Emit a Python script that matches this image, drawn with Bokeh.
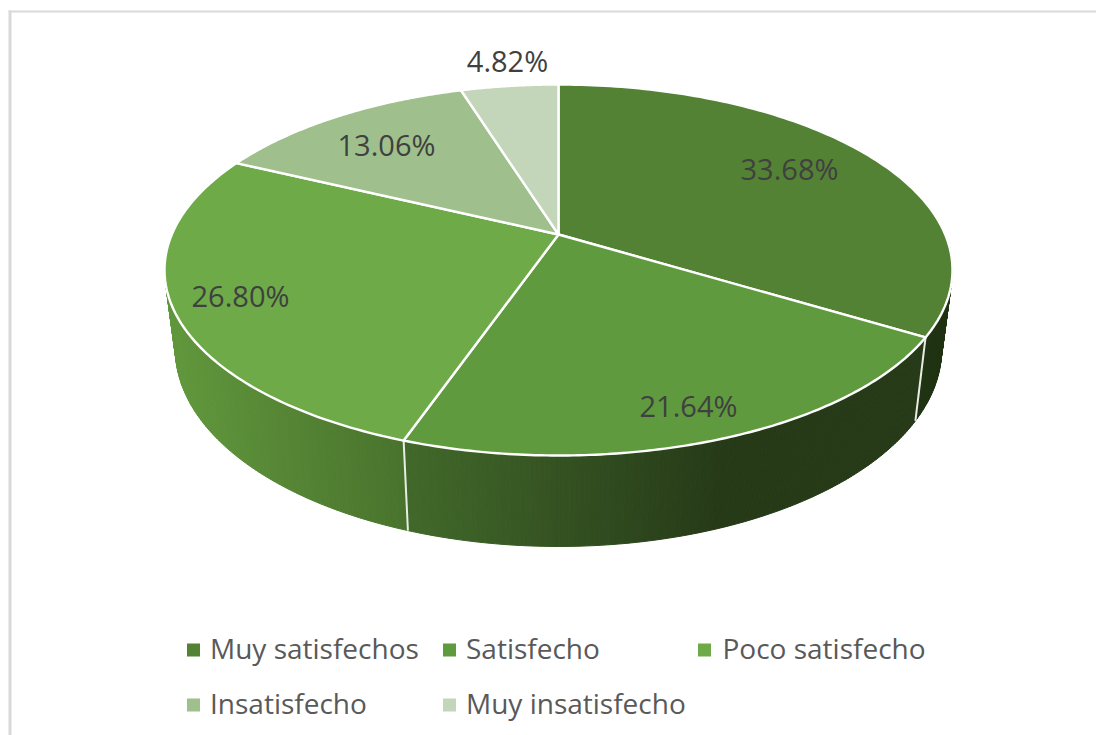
import math
import numpy as np
from bokeh.plotting import figure
from bokeh.models import Range1d, ColumnDataSource
from bokeh.core.properties import value
from bokeh.embed import file_html
from bokeh.resources import INLINE

# --- data ---
categories = ["Muy satisfechos", "Satisfecho", "Poco satisfecho", "Insatisfecho", "Muy insatisfecho"]
shares = [33.68, 21.64, 26.80, 13.06, 4.82]
share_labels = ["33.68%", "21.64%", "26.80%", "13.06%", "4.82%"]

# --- styles and placement ---
face_colors = ["#548235", "#5f9a3e", "#6eaa48", "#9fc08c", "#c3d6b9"]
# wall shading: (x_from, rgb_from, x_to, rgb_to) per slice
wall_shades = [
    (700, (31, 50, 18), 950, (31, 50, 18)),
    (410, (65, 104, 42), 720, (38, 58, 24)),
    (170, (97, 151, 60), 402, (73, 115, 45)),
    (0, (60, 90, 40), 1, (60, 90, 40)),
    (0, (60, 90, 40), 1, (60, 90, 40)),
]
label_x = [789, 688, 240, 386, 507]
label_y = [168, 405, 295, 144, 60]
legend_col = [0, 1, 2, 0, 1]
legend_row = [0, 0, 0, 1, 1]
legend_col_x = [193, 449, 704]
legend_text_x = [209.5, 465.5, 722]
legend_row_y = [647.5, 702.5]
legend_mark_y = [649.5, 704.5]

CX, CY = 558.0, 234.0
TOP = dict(a=386.7, b=178.7, k=-0.1914, y0=CY)
BOT = dict(a=376.0, b=190.0, k=-0.1914, y0=311.0)
W, H = 1096, 735


def project(theta, rim, r=1.0):
    u = r * np.sin(theta)
    v = -r * np.cos(theta)
    d = 1 + rim["k"] * v
    return CX + rim["a"] * u / d, rim["y0"] + rim["b"] * v / d


p = figure(width=W, height=H, output_backend="svg", toolbar_location=None,
           x_range=Range1d(0, W), y_range=Range1d(H, 0),
           min_border=0, outline_line_color=None, background_fill_color="white")
p.axis.visible = False
p.grid.visible = False

# frame (left and top edges only are in view)
p.line([9.5, 9.5], [10, H], line_color="#d9d9d9", line_width=3)
p.line([8, W], [11, 11], line_color="#d9d9d9", line_width=2)

total = sum(shares)
bounds = np.cumsum([0] + shares) / total * 2 * math.pi

# side wall as thin shaded strips
xs, ys, cols = [], [], []
for i in range(len(shares)):
    a0, a1 = bounds[i], bounds[i + 1]
    a0v, a1v = max(a0, math.radians(55)), min(a1, math.radians(305))
    if a1v <= a0v:
        continue
    n = max(2, int(math.degrees(a1v - a0v) / 0.6))
    edges = np.linspace(a0v, a1v, n + 1)
    x_a, rgb_a, x_b, rgb_b = wall_shades[i]
    for t0, t1 in zip(edges[:-1], edges[1:]):
        tx0, ty0 = project(t0, TOP)
        tx1, ty1 = project(t1, TOP)
        bx0, by0 = project(t0, BOT)
        bx1, by1 = project(t1, BOT)
        f = min(1.0, max(0.0, ((tx0 + tx1) / 2 - x_a) / (x_b - x_a)))
        c = tuple(int(round(rgb_a[j] + f * (rgb_b[j] - rgb_a[j]))) for j in range(3))
        xs.append([float(tx0), float(tx1), float(bx1), float(bx0)])
        ys.append([float(ty0), float(ty1), float(by1), float(by0)])
        cols.append("#%02x%02x%02x" % c)
p.patches(xs="xs", ys="ys", fill_color="cols", line_color="cols", line_width=1,
          source=ColumnDataSource(dict(xs=xs, ys=ys, cols=cols)))

# seams on the wall at slice boundaries in view
for a in bounds[1:3]:
    tx, ty = project(a, TOP)
    bx, by = project(a, BOT)
    p.line([float(tx), float(bx)], [float(ty), float(by)], line_color="#e8ede4", line_width=2)

# top faces
fx, fy = [], []
for i in range(len(shares)):
    t = np.linspace(bounds[i], bounds[i + 1], 120)
    rx, ry = project(t, TOP)
    fx.append([CX] + rx.tolist())
    fy.append([CY] + ry.tolist())
p.patches(xs="fx", ys="fy", fill_color="col", line_color="white", line_width=2.4, line_join="round",
          source=ColumnDataSource(dict(fx=fx, fy=fy, col=face_colors)))

# value labels
p.text(x=label_x, y=label_y, text=share_labels, text_font=value("Open Sans"),
       text_font_size="29px", text_color="#404040", text_align="center", text_baseline="middle")

# legend
p.scatter(x=[legend_col_x[c] for c in legend_col], y=[legend_mark_y[r] for r in legend_row],
          marker="square", size=13, fill_color=face_colors, line_color=None)
p.text(x=[legend_text_x[c] for c in legend_col], y=[legend_row_y[r] for r in legend_row],
       text=categories, text_font=value("Open Sans"), text_font_size="28px",
       text_color="#595959", text_align="left", text_baseline="middle")

open("out.html", "w").write(file_html(p, INLINE))
